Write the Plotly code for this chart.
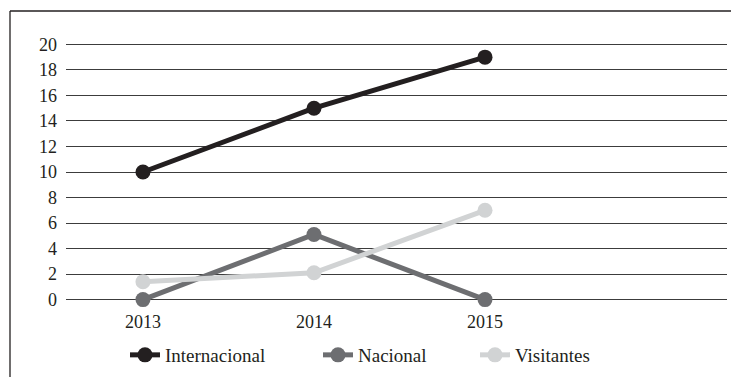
import plotly.graph_objects as go

# Data
years = ["2013", "2014", "2015"]
internacional = [10, 15, 19]
nacional = [0, 5.1, 0]
visitantes = [1.4, 2.1, 7]
y_ticks = [0, 2, 4, 6, 8, 10, 12, 14, 16, 18, 20]

# name, values, colour, legend entry width (px of the text part)
series = [
    ("Internacional", internacional, "#231f20", 148),
    ("Nacional", nacional, "#6d6e71", 112),
    ("Visitantes", visitantes, "#d1d3d4", 90),
]

fig = go.Figure()
for name, vals, color, lw in series:
    fig.add_trace(go.Scatter(
        x=years, y=vals, name=name, mode="lines+markers",
        line=dict(color=color, width=5),
        marker=dict(color=color, size=15),
        cliponaxis=False,
        legendwidth=lw,
    ))

FONT = "Liberation Serif"

fig.update_layout(
    width=731, height=377,
    margin=dict(l=66, r=4, t=38, b=71, autoexpand=False),
    paper_bgcolor="white", plot_bgcolor="white",
    font=dict(family=FONT, size=18, color="#231f20"),
    showlegend=True,
    legend=dict(
        orientation="h",
        xref="container", x=125 / 731, xanchor="left",
        yref="container", y=(377 - 355) / 377, yanchor="middle",
        font=dict(family=FONT, size=19, color="#231f20"),
        tracegroupgap=0,
    ),
    xaxis=dict(
        type="category", range=[-0.45, 3.415],
        showgrid=False, zeroline=False, showline=False,
        ticks="", ticklabelstandoff=3,
        tickfont=dict(family=FONT, size=18),
    ),
    yaxis=dict(
        range=[-0.5, 20.5], tickvals=y_ticks,
        showgrid=True, gridcolor="#3c3c3c", gridwidth=1.3,
        zeroline=False, showline=False,
        ticks="", ticklabelstandoff=8,
        tickfont=dict(family=FONT, size=18),
    ),
)

# Outer frame (left and top edges of the chart box)
fx = (10 - 66) / 661
fy = (306 - 11) / 268
frame = dict(color="#231f20", width=1.3)
fig.add_shape(type="line", xref="paper", yref="paper",
              x0=fx, x1=fx, y0=fy, y1=-0.4, line=frame)
fig.add_shape(type="line", xref="paper", yref="paper",
              x0=fx, x1=1.02, y0=fy, y1=fy, line=frame)

fig.write_html("out.html")
